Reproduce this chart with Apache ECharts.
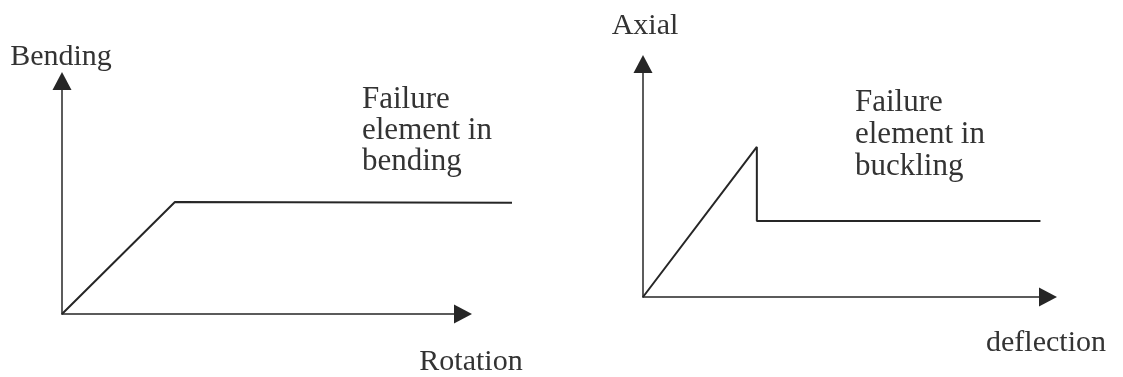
<!DOCTYPE html>
<html>
<head>
<meta charset="utf-8">
<style>
  html, body { margin: 0; padding: 0; background: #fff; }
  #chart { width: 1123px; height: 377px; }
</style>
<script src="https://cdn.jsdelivr.net/npm/echarts@6/dist/echarts.min.js"></script>
</head>
<body>
<div id="chart"></div>
<script>
// bending moment vs rotation (elastic-perfectly plastic)
var bendingX = [0, 27.6, 110];
var bendingY = [0, 46.3, 46];
// axial force vs deflection (buckling with sudden drop)
var axialX = [0, 27.5, 27.5, 96];
var axialY = [0, 62, 31.4, 31.4];

var axisNames = ['Bending', 'Rotation', 'Axial', 'deflection'];
var noteBending = ['Failure', 'element in', 'bending'];
var noteBuckling = ['Failure', 'element in', 'buckling'];

var FONT = '"Liberation Serif", "Times New Roman", serif';
var INK = '#262626';

function pairs(xs, ys) {
  return xs.map(function (x, i) { return [x, ys[i]]; });
}

// visible axis with a filled arrow head
function axis(idx) {
  return {
    type: 'value',
    gridIndex: idx,
    min: 0,
    max: 100,
    axisLine: {
      show: true,
      symbol: ['none', 'triangle'],
      symbolSize: [19, 18],
      lineStyle: { color: INK, width: 1.5 }
    },
    axisTick: { show: false },
    axisLabel: { show: false },
    splitLine: { show: false }
  };
}

// hidden axis, only used to place the data
function hiddenAxis(idx, max) {
  return {
    type: 'value',
    gridIndex: idx,
    min: 0,
    max: max,
    show: false
  };
}

function text(x, y, str, opts) {
  opts = opts || {};
  return {
    type: 'text',
    x: x,
    y: y,
    style: {
      text: str,
      fill: '#333',
      font: (opts.size || 30) + 'px ' + FONT,
      lineHeight: opts.lineHeight || 30,
      textAlign: opts.align || 'left',
      textVerticalAlign: opts.valign || 'middle'
    }
  };
}

var chart = echarts.init(document.getElementById('chart'));
chart.setOption({
  animation: false,
  backgroundColor: '#fff',
  grid: [
    // left: axes frame (arrow tips reach past it), then data area
    { left: 62, top: 81, width: 401, height: 233 },
    { left: 62, top: 72, width: 450, height: 242 },
    // right: same split
    { left: 643, top: 64, width: 405, height: 233 },
    { left: 643, top: 55, width: 414, height: 242 }
  ],
  xAxis: [axis(0), hiddenAxis(1, 110), axis(2), hiddenAxis(3, 100)],
  yAxis: [axis(0), hiddenAxis(1, 100), axis(2), hiddenAxis(3, 100)],
  series: [
    {
      type: 'line',
      xAxisIndex: 1,
      yAxisIndex: 1,
      data: pairs(bendingX, bendingY),
      symbol: 'none',
      lineStyle: { color: INK, width: 2 }
    },
    {
      type: 'line',
      xAxisIndex: 3,
      yAxisIndex: 3,
      data: pairs(axialX, axialY),
      symbol: 'none',
      lineStyle: { color: INK, width: 2 }
    }
  ],
  graphic: [
    text(61, 57, axisNames[0], { align: 'center' }),
    text(471, 362, axisNames[1], { align: 'center' }),
    text(645, 26, axisNames[2], { align: 'center' }),
    text(1046, 343, axisNames[3], { align: 'center' }),
    text(362, 84, noteBending.join('\n'), { valign: 'top', lineHeight: 31, size: 31 }),
    text(855, 87, noteBuckling.join('\n'), { valign: 'top', lineHeight: 32, size: 31 })
  ]
});
</script>
</body>
</html>
